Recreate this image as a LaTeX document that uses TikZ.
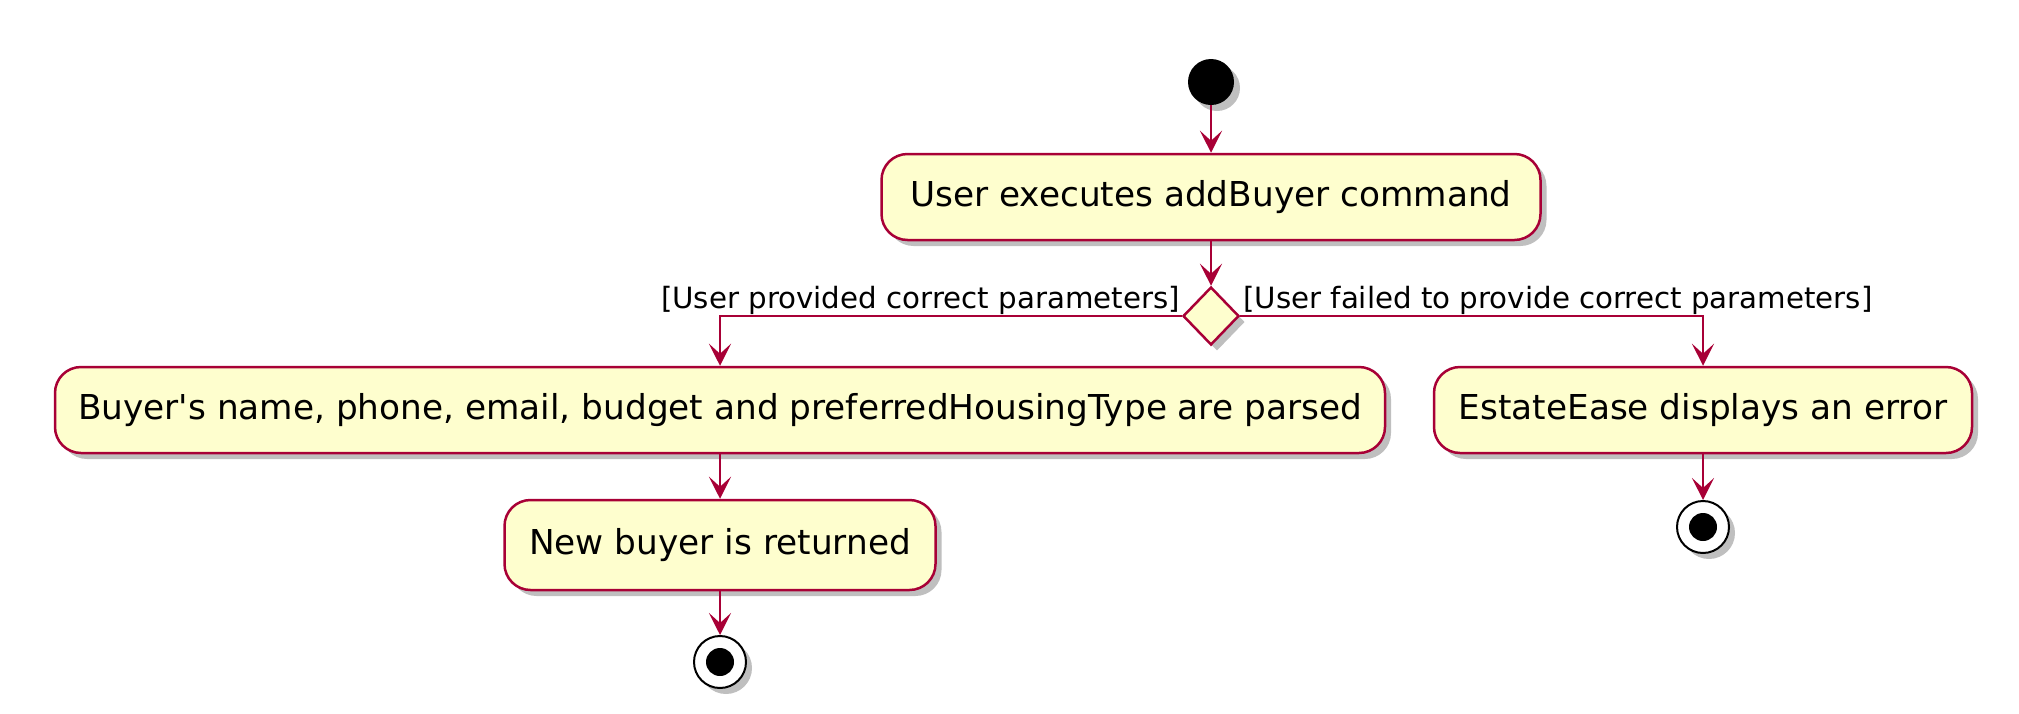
\documentclass[tikz,border=0pt]{standalone}
\usepackage{fontspec}
\setmainfont{DejaVu Sans}
\usetikzlibrary{shapes.geometric,arrows.meta,shadows}
\definecolor{umlborder}{HTML}{A80036}
\definecolor{umlfill}{HTML}{FEFECE}
\tikzset{
  shade/.style={drop shadow={shadow xshift=6pt, shadow yshift=-6pt, opacity=0.25, fill=black}},
  actbox/.style={draw=umlborder, fill=umlfill, line width=2.5pt, rounded corners=26pt,
    inner sep=0pt, minimum height=86pt, font=\fontsize{34.3pt}{40pt}\selectfont, shade},
  flow/.style={draw=umlborder, line width=2.5pt, -{Stealth[length=22pt,width=22pt,inset=10pt]}},
  guard/.style={font=\fontsize{29.3pt}{34pt}\selectfont, inner sep=0pt},
  startnode/.style={circle, fill=black, minimum size=46pt, inner sep=0pt, shade},
  endnode/.style={circle, draw=black, fill=white, line width=2pt, minimum size=52pt, inner sep=0pt, shade,
    path picture={\fill[black] (path picture bounding box.center) circle (14pt);}},
  decision/.style={diamond, draw=umlborder, fill=umlfill, line width=2.5pt, minimum width=56pt,
    minimum height=58pt, inner sep=0pt, shade}
}
\begin{document}
\begin{tikzpicture}[x=1pt,y=-1pt]
\useasboundingbox (0,0) rectangle (2019,713);
\node[startnode] (s) at (1211,82) {};
\node[actbox, minimum width=659pt] (a1) at (1211,197) {User executes addBuyer command};
\node[decision] (d) at (1211,316) {};
\node[actbox, minimum width=1330pt] (a2) at (720,410) {Buyer\textquotesingle s name, phone, email, budget and preferredHousingType are parsed};
\node[actbox, minimum width=431pt, minimum height=90pt] (a3) at (720,545) {New buyer is returned};
\node[actbox, minimum width=538pt] (a4) at (1703,410) {EstateEase displays an error};
\node[endnode] (e1) at (720,662) {};
\node[endnode] (e2) at (1703,527) {};
\node[guard, anchor=base east] (l1) at (1180,308) {[User provided correct parameters]};
\node[guard, anchor=base west] (l2) at (1243,308) {[User failed to provide correct parameters]};
\draw[flow] (s) -- (a1);
\draw[flow] (a1) -- (d);
\draw[flow] (d.west) -| (a2.north);
\draw[flow] (d.east) -| (a4.north);
\draw[flow] (a2) -- (a3);
\draw[flow] (a3) -- (e1);
\draw[flow] (a4) -- (e2);
\end{tikzpicture}
\end{document}
